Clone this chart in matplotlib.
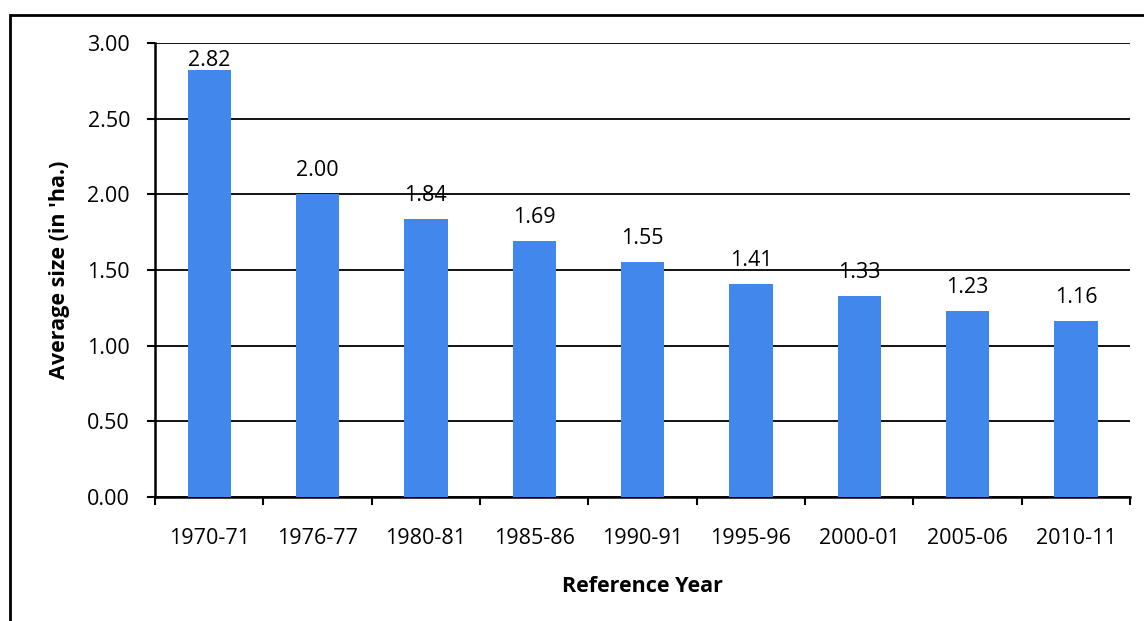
import matplotlib.pyplot as plt
from matplotlib.patches import Rectangle

years = ['1970-71', '1976-77', '1980-81', '1985-86', '1990-91',
         '1995-96', '2000-01', '2005-06', '2010-11']
avg_size = [2.82, 2.00, 1.84, 1.69, 1.55, 1.41, 1.33, 1.23, 1.16]
y_ticks = [0.0, 0.5, 1.0, 1.5, 2.0, 2.5, 3.0]

plt.rcParams['font.family'] = ['Open Sans', 'DejaVu Sans']
FS = 15.5

fig = plt.figure(figsize=(11.44, 6.21), dpi=100)
ax = fig.add_axes([0.1355, 0.1997, 0.8523, 0.7311])

x = range(len(years))
bars = ax.bar(x, avg_size, width=0.4, color='#4287EC', zorder=3)
for b, v in zip(bars, avg_size):
    # labels sit above the bars, kept inside the plot area
    ax.text(b.get_x() + b.get_width() / 2, min(v + 0.155, 2.885), f'{v:.2f}',
            ha='center', va='center', fontsize=FS, zorder=4)

ax.set_xlim(-0.5, len(years) - 0.5)
ax.set_ylim(0, 3.0)
ax.set_yticks(y_ticks)
ax.set_yticklabels([f'{t:.2f}' for t in y_ticks], fontsize=FS)

# category labels centred under bars, ticks on category boundaries
ax.set_xticks([i - 0.5 for i in range(len(years) + 1)])
ax.set_xticklabels([])
ax.set_xticks(list(x), minor=True)
ax.set_xticklabels(years, minor=True, fontsize=FS)
ax.tick_params(axis='x', which='minor', length=0, pad=22)
ax.tick_params(axis='x', which='major', length=6, width=1.5, direction='out')
ax.tick_params(axis='y', length=6, width=1.5, direction='out', pad=12)

ax.yaxis.grid(True, color='black', linewidth=1.3, zorder=0)
for s in ['top', 'right']:
    ax.spines[s].set_visible(False)
for s in ['left', 'bottom']:
    ax.spines[s].set_linewidth(1.8)

ax.set_xlabel('Reference Year', fontsize=FS, fontweight='bold', labelpad=20)
ax.set_ylabel("Average size (in 'ha.)", fontsize=FS, fontweight='bold', labelpad=12)

# outer chart border
fig.patches.append(Rectangle((10 / 1144, -0.2), 1.5, 1.2 - 15 / 621,
                             transform=fig.transFigure, fill=False,
                             edgecolor='black', linewidth=2))

fig.savefig('out.png', dpi=100)
